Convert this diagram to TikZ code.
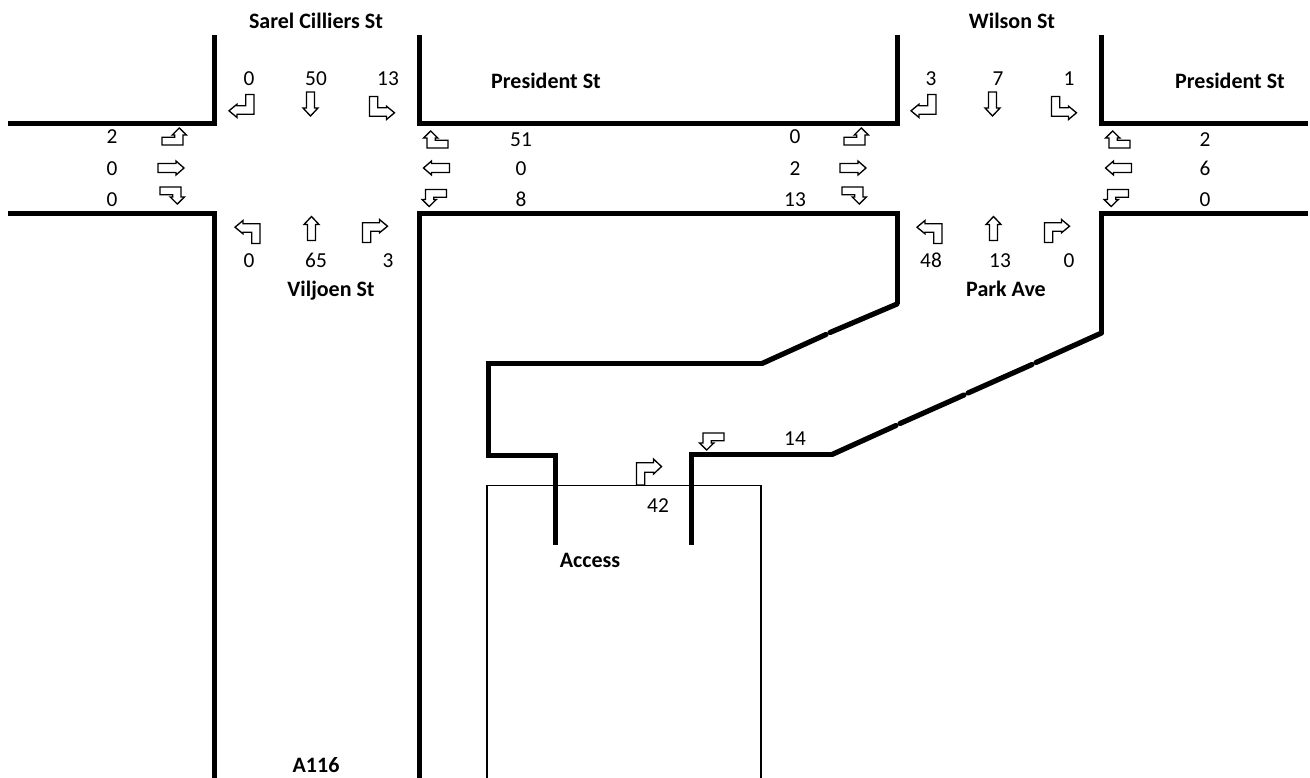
\documentclass[tikz,border=0pt]{standalone}
\usepackage{fontspec}
\setmainfont{Carlito}

\begin{document}
\begin{tikzpicture}[
        x=0.75pt, y=-0.75pt,
        road/.style={draw=black, line width=3.75pt, line join=miter},
        roadpiece/.style={draw=black, line width=3.9pt, line cap=round},
        site/.style={draw=black, line width=1.2pt},
        moveline/.style={draw=black, line width=1pt, line join=miter},
        count/.style={inner sep=0pt, text=black, text height=11pt, text depth=0pt, font=\fontsize{16}{18}\selectfont},
        streetname/.style={inner sep=0pt, text=black, text height=11pt, text depth=0pt, font=\fontsize{16.5}{18}\selectfont\bfseries},
        turnh/.pic={\draw[moveline] (-12.5,-4.8) -- (-4.5,-11.5) -- (-4.5,-8.2) -- (12.5,-8.2) -- (12.5,11.5) -- (4.2,11.5) -- (4.2,0.2) -- (-4.5,0.2) -- (-4.5,1.8) -- cycle;},
        turnv/.pic={\draw[moveline] (-4.8,-8.5) -- (2.3,-1.5) -- (-0.3,-1.5) -- (-0.3,0.8) -- (12.5,0.8) -- (12.5,8.5) -- (-8.5,8.5) -- (-8.5,-1.5) -- (-12,-1.5) -- cycle;},
        thruv/.pic={\draw[moveline] (0,-12) -- (7.5,-4) -- (4,-4) -- (4,12) -- (-4,12) -- (-4,-4) -- (-7.5,-4) -- cycle;},
        thruh/.pic={\draw[moveline] (13,0) -- (5,-7) -- (5,-4.5) -- (-13,-4.5) -- (-13,4.5) -- (5,4.5) -- (5,7) -- cycle;}
    ]
    \useasboundingbox (0,0) rectangle (1310,778);

    % kerbs
    \draw[road] (8,123.5) -- (214.5,123.5) -- (214.5,35);
    \draw[road] (8,213.5) -- (214.5,213.5) -- (214.5,778);
    \draw[road] (419.5,35) -- (419.5,123.5) -- (897,123.5) -- (897,35);
    \draw[road] (1308,123.5) -- (1101.5,123.5) -- (1101.5,35);
    \draw[road] (419.5,778) -- (419.5,213.5) -- (897,213.5) -- (897,304);
    \draw[road] (1308,213.5) -- (1101.5,213.5) -- (1101.5,333);
    \draw[road] (762,363.5) -- (488,363.5) -- (488,455) -- (555.5,455) -- (555.5,545);
    \draw[road] (832,454.5) -- (691.5,454.5) -- (691.5,545);

    % slanted pieces
    \draw[roadpiece] (897,304) -- (830,332.5);
    \draw[roadpiece] (826,334.5) -- (762,363.5);
    \draw[roadpiece] (1101.5,333) -- (1036,362.5);
    \draw[roadpiece] (1032,364.5) -- (968,393);
    \draw[roadpiece] (964,395) -- (900,423.5);
    \draw[roadpiece] (896,425.5) -- (832,454.5);

    % site
    \draw[site] (487,778) -- (487,485.5) -- (761,485.5) -- (761,778);

    % movements, both junctions
    \foreach \dx in {0,682} {
        \pic[yscale=-1] at (241.5+\dx,106) {turnh};
        \pic[yscale=-1] at (310.5+\dx,104) {thruv};
        \pic[xscale=-1,yscale=-1] at (382+\dx,108) {turnh};
        \pic at (247.5+\dx,232) {turnh};
        \pic at (311.5+\dx,228.5) {thruv};
        \pic[xscale=-1] at (375+\dx,231) {turnh};
        \pic[xscale=-1] at (174.5+\dx,136.5) {turnv};
        \pic at (171+\dx,168) {thruh};
        \pic[xscale=-1,yscale=-1] at (172.5+\dx,195.5) {turnv};
        \pic at (435.5+\dx,139.5) {turnv};
        \pic[xscale=-1] at (436.5+\dx,168) {thruh};
        \pic[yscale=-1] at (434+\dx,198) {turnv};
    }
    \pic[xscale=-1,yscale=1.13] at (649,472) {turnh};
    \pic[yscale=-1] at (711.5,441.5) {turnv};

    % counts
    \node[count] (sarelR) at (249,78) {0};
    \node[count] (sarelT) at (316,78) {50};
    \node[count] (sarelL) at (388,78) {13};
    \node[count] (viljoenL) at (249,260) {0};
    \node[count] (viljoenT) at (316,260) {65};
    \node[count] (viljoenR) at (388,260) {3};
    \node[count] (westAL) at (112,136) {2};
    \node[count] (westAT) at (112,168) {0};
    \node[count] (westAR) at (112,199) {0};
    \node[count] (eastAR) at (521,139) {51};
    \node[count] (eastAT) at (521,168) {0};
    \node[count] (eastAL) at (521,199) {8};
    \node[count] (wilsonR) at (931,78) {3};
    \node[count] (wilsonT) at (998,78) {7};
    \node[count] (wilsonL) at (1069,78) {1};
    \node[count] (parkL) at (931,260) {48};
    \node[count] (parkT) at (1000,260) {13};
    \node[count] (parkR) at (1069,260) {0};
    \node[count] (westBL) at (795,136) {0};
    \node[count] (westBT) at (795,168) {2};
    \node[count] (westBR) at (795,199) {13};
    \node[count] (eastBR) at (1205,139) {2};
    \node[count] (eastBT) at (1205,168) {6};
    \node[count] (eastBL) at (1205,199) {0};
    \node[count] (accessOut) at (658,505) {42};
    \node[count] (accessIn) at (795,438) {14};

    % street names
    \node[streetname] (sarel) at (316,21) {Sarel Cilliers St};
    \node[streetname] (wilson) at (1012,21) {Wilson St};
    \node[streetname] (presidentA) at (546,81) {President St};
    \node[streetname] (presidentB) at (1230,81) {President St};
    \node[streetname] (viljoen) at (331,289) {Viljoen St};
    \node[streetname] (park) at (1006,289) {Park Ave};
    \node[streetname] (access) at (590,560) {Access};
    \node[streetname] (atoa) at (316,765) {A116};
\end{tikzpicture}
\end{document}
